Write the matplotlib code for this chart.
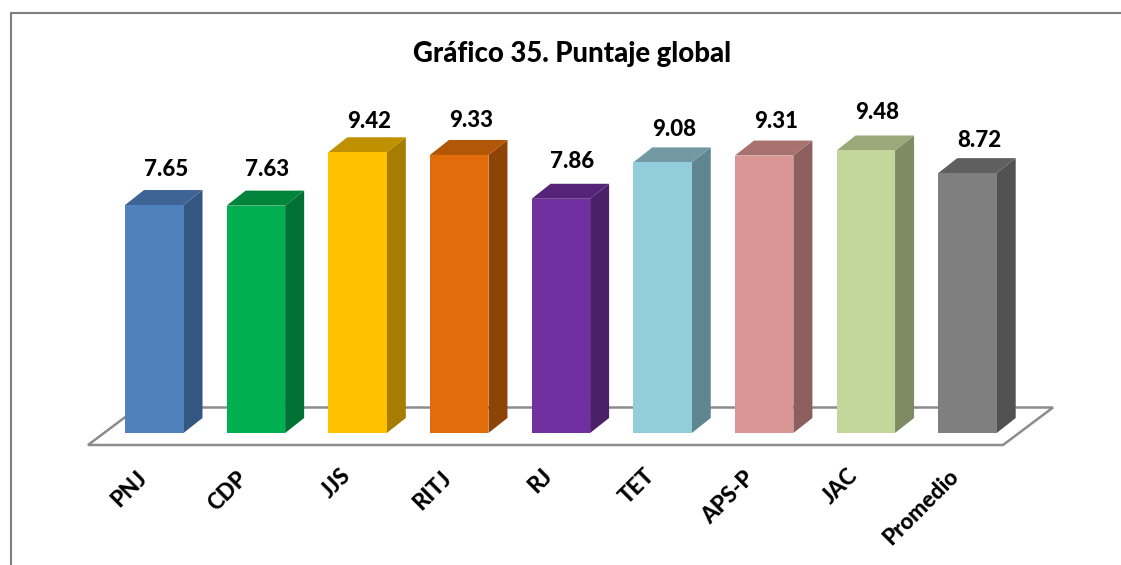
import matplotlib
matplotlib.use("Agg")
import matplotlib.pyplot as plt
from matplotlib.patches import Polygon
from matplotlib.lines import Line2D

categories = ["PNJ", "CDP", "JJS", "RITJ", "RJ", "TET", "APS-P", "JAC", "Promedio"]
values = [7.65, 7.63, 9.42, 9.33, 7.86, 9.08, 9.31, 9.48, 8.72]
title = "Gráfico 35. Puntaje global"

front_colors = ["#4f81bd", "#00b050", "#ffc000", "#e36c0a", "#7030a0", "#92cddc", "#d99694", "#c3d69b", "#7f7f7f"]
side_colors = ["#335780", "#007034", "#a67d00", "#8f4407", "#4a2069", "#5f8690", "#8c5f5e", "#7f8b65", "#525252"]
top_colors = ["#3d6494", "#00843c", "#bf9000", "#b25708", "#552479", "#7399a5", "#a97270", "#9aa97a", "#5f5f5f"]
label_lift_px = [36, 36, 31, 34, 37, 33, 34, 38, 33]
tick_end_px = [(144, 475), (244, 475), (347, 472), (448, 475), (549, 472), (651, 472), (751, 475), (854, 472), (955, 473)]

W, H = 1121, 565
X0, DX = 154.25, 101.65
Y0, DY = 433.0, 29.8
BAR_W = 58.5
DEPTH_X, DEPTH_Y = 19.0, 15.0

plt.rcParams["font.family"] = ["Lato", "DejaVu Sans"]
fig = plt.figure(figsize=(W / 100, H / 100), dpi=100, facecolor="white")
ax = fig.add_axes([0, 0, 1, 1])
ax.set_xlim(-X0 / DX, (W - X0) / DX)
ax.set_ylim(-(H - Y0) / DY, Y0 / DY)
ax.axis("off")


def ux(px):
    return (px - X0) / DX


def uy(py):
    return (Y0 - py) / DY


gray = "#8c8c8c"
ax.add_patch(Polygon([(ux(88), uy(445)), (ux(1003), uy(445)), (ux(1053), uy(407.5)), (ux(138), uy(407.5))],
                     closed=True, facecolor="white", edgecolor=gray, linewidth=1.8, zorder=1))

hw = BAR_W / 2 / DX
ddx, ddy = DEPTH_X / DX, DEPTH_Y / DY
for i, v in enumerate(values):
    l, r = i - hw, i + hw
    ax.add_patch(Polygon([(r, 0), (r + ddx, ddy), (r + ddx, v + ddy), (r, v)], closed=True,
                         facecolor=side_colors[i], edgecolor="none", zorder=2))
    ax.add_patch(Polygon([(l, v), (r, v), (r + ddx, v + ddy), (l + ddx, v + ddy)], closed=True,
                         facecolor=top_colors[i], edgecolor="none", zorder=2))
    ax.bar(i, v, width=2 * hw, color=front_colors[i], zorder=3)
    ax.text(i + 11.5 / DX, v + label_lift_px[i] / DY, f"{v:.2f}", ha="center", va="center",
            fontsize=16, fontweight=900, color="black", zorder=4)
    px, py = tick_end_px[i]
    ax.text(ux(px), uy(py), categories[i], rotation=45, rotation_mode="anchor", ha="right", va="center",
            fontsize=16, fontweight=900, color="black", zorder=4)

ax.text(ux(572), uy(53.5), title, ha="center", va="center", fontsize=19.8, fontweight=900, color="black")

border = "#7f7f7f"
fig.add_artist(Line2D([10.5 / W, 10.5 / W, 1], [0, 1 - 13 / H, 1 - 13 / H], color=border, linewidth=1.5,
                      solid_joinstyle="miter"))

fig.savefig("out.png", dpi=100, facecolor="white")
